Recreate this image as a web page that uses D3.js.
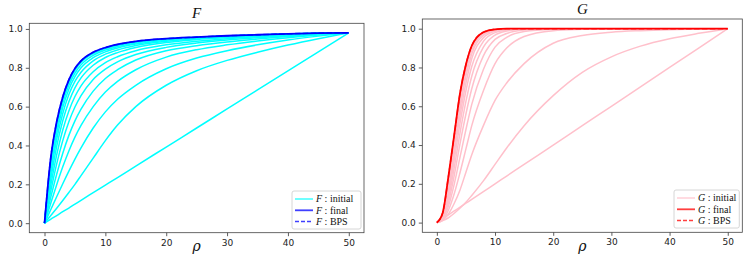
<!DOCTYPE html>
<html>
<head>
<meta charset="utf-8">
<script src="https://cdn.jsdelivr.net/npm/d3@7"></script>
<style>
  body { margin: 0; background: #fff; }
  svg { display: block; }
  .tick text { font-family: "DejaVu Sans", sans-serif; font-size: 9px; fill: #222; }
</style>
</head>
<body>
<svg id="chart" width="753" height="263"></svg>
<script>
// rho grid shared by all curves
var rho = [0, 1, 2, 3, 4, 5, 6, 8, 10, 12, 15, 20, 25, 30, 35, 40, 45, 50];

// F: iterates (first one = initial), then final
var fCurves = [
  [0, .02, .039, .059, .078, .098, .118, .157, .196, .235, .294, .392, .49, .588, .686, .784, .882, .98],
  [0, .038, .077, .117, .158, .20, .245, .335, .425, .505, .60, .71, .785, .838, .88, .917, .95, .98],
  [0, .068, .136, .203, .268, .33, .388, .49, .573, .638, .71, .795, .85, .888, .918, .943, .963, .98],
  [0, .10, .198, .29, .372, .443, .503, .60, .675, .73, .79, .855, .893, .918, .938, .955, .969, .98],
  [0, .13, .252, .36, .452, .527, .587, .68, .745, .79, .84, .888, .914, .933, .948, .961, .971, .98],
  [0, .16, .305, .425, .522, .598, .657, .74, .793, .83, .868, .905, .927, .943, .955, .965, .973, .98],
  [0, .19, .352, .48, .578, .652, .707, .78, .827, .857, .888, .918, .937, .95, .96, .968, .975, .98],
  [0, .22, .395, .527, .625, .697, .748, .813, .853, .878, .904, .93, .945, .955, .963, .97, .976, .98],
  [0, .25, .432, .565, .662, .73, .777, .836, .87, .892, .915, .937, .95, .958, .966, .972, .977, .98],
  [0, .27, .46, .595, .69, .755, .80, .852, .882, .902, .922, .942, .953, .961, .967, .973, .977, .98],
  [0, .29, .485, .618, .71, .773, .815, .864, .891, .909, .928, .946, .956, .963, .969, .974, .978, .98],
  [0, .31, .505, .635, .725, .787, .827, .873, .898, .915, .932, .948, .957, .964, .969, .974, .978, .98]
];
var fFinal = [0, .33, .522, .65, .738, .797, .836, .88, .904, .92, .936, .95, .958, .965, .97, .975, .978, .98];
var fBps = [0, .33, .522, .65, .738, .797, .836, .88, .904, .92, .936, .95, .958, .965, .97, .975, .978, .98];

// G: iterates (first one = initial), then final
var gCurves = [
  [0, .02, .04, .06, .08, .10, .12, .16, .20, .24, .30, .40, .50, .60, .70, .80, .90, 1],
  [0, .01, .025, .048, .075, .105, .14, .215, .30, .385, .50, .655, .775, .855, .91, .948, .976, 1],
  [0, .012, .045, .10, .17, .26, .35, .50, .63, .72, .82, .925, .965, .982, .99, .995, .998, 1],
  [0, .015, .065, .15, .26, .38, .50, .68, .82, .90, .96, .99, .997, 1, 1, 1, 1, 1],
  [0, .02, .085, .20, .34, .48, .61, .79, .905, .955, .985, .997, 1, 1, 1, 1, 1, 1],
  [0, .025, .105, .245, .41, .56, .69, .86, .945, .975, .993, 1, 1, 1, 1, 1, 1, 1],
  [0, .03, .125, .285, .465, .625, .755, .905, .967, .988, .997, 1, 1, 1, 1, 1, 1, 1],
  [0, .035, .145, .325, .515, .68, .805, .935, .98, .993, .999, 1, 1, 1, 1, 1, 1, 1],
  [0, .04, .165, .36, .555, .72, .845, .953, .987, .996, 1, 1, 1, 1, 1, 1, 1, 1],
  [0, .042, .185, .39, .59, .755, .87, .965, .991, .998, 1, 1, 1, 1, 1, 1, 1, 1],
  [0, .045, .205, .415, .62, .78, .89, .972, .994, .999, 1, 1, 1, 1, 1, 1, 1, 1],
  [0, .048, .222, .435, .645, .80, .902, .977, .996, 1, 1, 1, 1, 1, 1, 1, 1, 1]
];
var gFinal = [0, .05, .24, .455, .67, .815, .912, .982, .997, 1, 1, 1, 1, 1, 1, 1, 1, 1];
var gBps = [0, .05, .24, .455, .67, .815, .912, .982, .997, 1, 1, 1, 1, 1, 1, 1, 1, 1];

var xTicks = [0, 10, 20, 30, 40, 50];
var yTicks = [0, 0.2, 0.4, 0.6, 0.8, 1.0];

var svg = d3.select("#chart");

var drawPanel = function(opt) {
  var x = d3.scaleLinear().domain([-2.5, 52.5]).range([opt.left, opt.right]);
  var y = d3.scaleLinear().domain(opt.yDomain).range([opt.bottom, opt.top]);
  var g = svg.append("g");

  var line = d3.line()
      .x(function(d, i) { return x(rho[i]); })
      .y(function(d) { return y(d); })
      .curve(d3.curveMonotoneX);

  var clip = "clip-" + opt.name;
  g.append("clipPath").attr("id", clip).append("rect")
      .attr("x", opt.left).attr("y", opt.top)
      .attr("width", opt.right - opt.left).attr("height", opt.bottom - opt.top);

  var plot = g.append("g").attr("clip-path", "url(#" + clip + ")");
  plot.selectAll("path.iter")
      .data(opt.curves)
      .enter().append("path")
      .attr("class", "iter")
      .attr("d", line)
      .style("fill", "none")
      .style("stroke", opt.iterColor)
      .style("stroke-width", 1.5);
  plot.append("path").attr("d", line(opt.final))
      .style("fill", "none").style("stroke", opt.finalColor).style("stroke-width", 1.8);
  plot.append("path").attr("d", line(opt.bps))
      .style("fill", "none").style("stroke", opt.finalColor).style("stroke-width", 1.5)
      .style("stroke-dasharray", "5.5,2.4").style("opacity", 0.7);

  // axes
  var xAxis = g.append("g").attr("transform", "translate(0," + opt.bottom + ")")
      .call(d3.axisBottom(x).tickValues(xTicks).tickSize(3.5).tickPadding(3).tickFormat(d3.format("d")));
  var yAxis = g.append("g").attr("transform", "translate(" + opt.left + ",0)")
      .call(d3.axisLeft(y).tickValues(yTicks).tickSize(3.5).tickPadding(3).tickFormat(d3.format(".1f")));
  [xAxis, yAxis].forEach(function(a) {
    a.select(".domain").remove();
    a.selectAll(".tick line").style("stroke", "#333").style("stroke-width", 0.8);
  });

  g.append("rect")
      .attr("x", opt.left).attr("y", opt.top)
      .attr("width", opt.right - opt.left).attr("height", opt.bottom - opt.top)
      .style("fill", "none").style("stroke", "#444").style("stroke-width", 0.8);

  // title and x label
  g.append("text")
      .attr("x", (opt.left + opt.right) / 2).attr("y", opt.top - 5)
      .style("text-anchor", "middle")
      .style("font-family", "'Liberation Serif', serif").style("font-style", "italic")
      .style("font-size", "15px").style("fill", "#111")
      .text(opt.name);
  g.append("text")
      .attr("x", x(25)).attr("y", 251)
      .style("text-anchor", "middle")
      .style("font-family", "'DejaVu Serif', serif").style("font-style", "italic")
      .style("font-size", "14px").style("fill", "#111")
      .text("\u03c1");

  // legend
  var items = [
    {label: "initial", color: opt.iterColor, dash: null, w: 1.5},
    {label: "final", color: opt.finalColor, dash: null, w: 1.8},
    {label: "BPS", color: opt.finalColor, dash: "4,2", w: 1.5}
  ];
  var lx = opt.legendX, ly = opt.legendY;
  g.append("rect")
      .attr("x", lx).attr("y", ly).attr("width", opt.right - 3 - lx).attr("height", 38)
      .attr("rx", 2)
      .style("fill", "#fff").style("fill-opacity", 0.8)
      .style("stroke", "#ccc").style("stroke-width", 0.8);
  var rows = g.selectAll("g.leg").data(items).enter().append("g")
      .attr("transform", function(d, i) { return "translate(" + lx + "," + (ly + 8 + i * 11.3) + ")"; });
  rows.append("line")
      .attr("x1", 3).attr("x2", 21).attr("y1", 0).attr("y2", 0)
      .style("stroke", function(d) { return d.color; })
      .style("stroke-width", function(d) { return d.w; })
      .style("stroke-dasharray", function(d) { return d.dash; })
      .style("opacity", 0.75);
  var t = rows.append("text")
      .attr("x", 24).attr("y", 3.3)
      .style("font-family", "'Liberation Serif', serif")
      .style("font-size", "10px").style("fill", "#111");
  t.append("tspan").style("font-style", "italic").text(opt.name);
  t.append("tspan").text(function(d) { return " : " + d.label; });
};

drawPanel({
  name: "F", left: 29.3, right: 364, top: 23.3, bottom: 232.7,
  yDomain: [-0.049, 1.029],
  curves: fCurves, final: fFinal, bps: fBps,
  iterColor: "#00ffff", finalColor: "#0000ff",
  legendX: 292, legendY: 191
});
drawPanel({
  name: "G", left: 422.3, right: 742.3, top: 19, bottom: 232.3,
  yDomain: [-0.05, 1.05],
  curves: gCurves, final: gFinal, bps: gBps,
  iterColor: "#ffc0cb", finalColor: "#ff0000",
  legendX: 674, legendY: 190
});
</script>
</body>
</html>
